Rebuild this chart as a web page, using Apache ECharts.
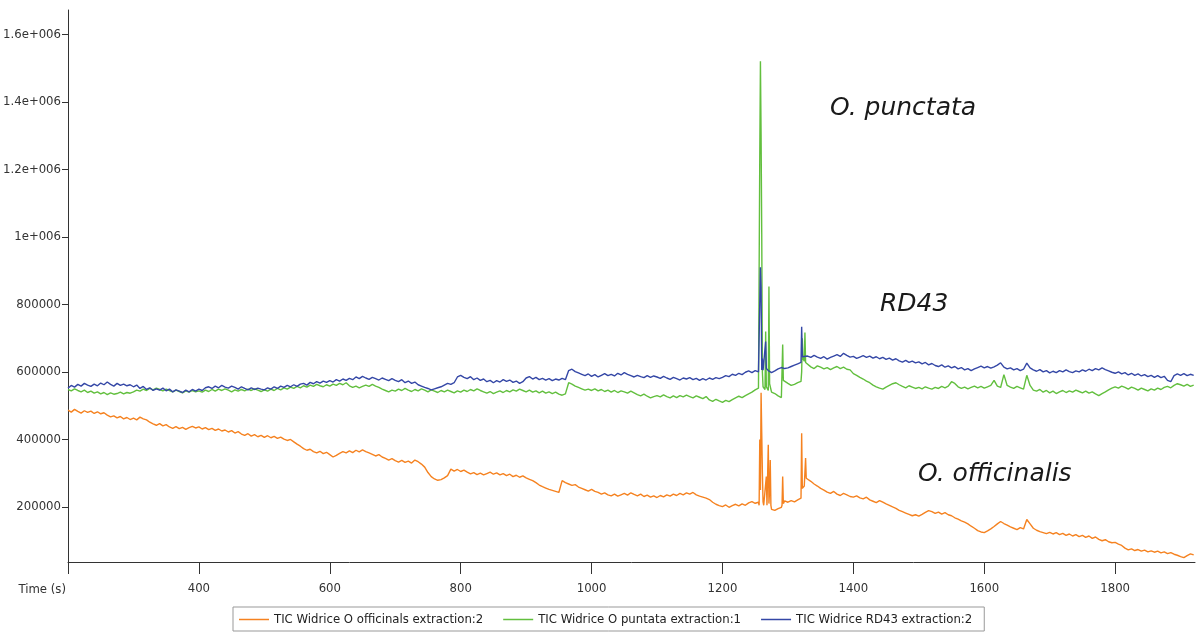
<!DOCTYPE html>
<html>
<head>
<meta charset="utf-8">
<script src="https://cdn.jsdelivr.net/npm/echarts@6/dist/echarts.min.js"></script>
<style>
html, body { margin: 0; padding: 0; background: #fff; }
#chart { width: 1198px; height: 637px; }
</style>
</head>
<body>
<div id="chart"></div>
<script>
// TIC traces, intensity in thousands, read every 5 s from 200 s to 1920 s
var tStart = 200
var tStep = 5

var officinalis = [
    487,481,489,483,478,485,480,484,477,482,476,479,472,467,470,464,468,461,465,459,
    463,458,466,461,458,451,446,442,447,440,444,437,433,438,432,436,430,435,439,434,
    437,431,435,429,433,427,431,425,428,422,426,419,423,416,412,417,410,414,408,412,
    406,411,405,409,403,407,401,397,400,393,386,380,373,368,371,364,360,365,358,362,
    355,348,353,359,364,360,366,361,368,363,369,364,360,356,351,355,348,344,339,343,
    337,333,338,332,336,330,339,334,327,318,302,290,283,279,281,286,293,312,306,311,
    305,309,303,298,302,296,300,295,299,303,297,301,295,299,293,297,290,294,288,292,
    286,282,278,272,265,260,256,252,249,246,243,278,272,268,264,266,259,255,251,247,
    252,246,243,238,242,236,233,238,232,236,240,235,242,237,233,238,231,235,229,233,
    228,234,230,236,232,238,234,240,236,242,238,243,236,232,229,226,222,214,208,204,
    201,206,199,204,208,203,209,205,212,216,211,214,420,200,384,193,190,195,199,218,
    214,219,215,221,226,262,283,276,268,262,255,250,244,240,246,238,234,240,236,231,
    229,233,227,224,229,221,217,213,219,214,209,205,200,196,190,186,182,178,174,177,
    173,178,184,189,186,181,185,179,183,177,174,168,164,159,155,150,143,137,130,126,
    124,129,135,142,150,157,151,146,141,137,133,139,135,163,150,137,131,127,124,121,
    125,120,124,118,122,116,120,114,118,112,116,110,114,107,111,104,100,103,97,94,
    95,90,86,78,73,76,71,74,69,72,67,70,66,69,64,67,62,65,60,57,
    53,50,56,61,58
]
var punctata = [
    548,544,550,545,541,546,539,543,537,541,535,539,533,538,534,536,540,535,539,537,
    541,546,543,549,545,551,547,552,548,544,549,545,541,546,542,538,544,540,545,541,
    544,540,546,542,548,543,549,545,550,546,541,547,543,548,544,549,545,550,546,542,
    547,543,549,545,551,547,553,549,555,551,557,553,559,555,561,557,563,559,556,562,
    558,564,560,566,562,568,559,554,558,553,557,561,557,563,558,554,549,545,541,546,
    543,549,545,551,546,542,548,544,550,546,541,547,543,539,545,541,546,542,538,544,
    540,546,542,548,544,550,545,541,537,542,536,540,544,539,545,541,547,543,549,545,
    541,546,540,544,538,543,537,541,536,540,534,531,535,568,564,558,554,550,546,549,
    545,550,544,548,542,546,540,545,539,544,541,537,543,538,533,529,534,528,523,527,
    530,526,532,527,523,529,524,530,526,531,527,523,529,525,521,527,517,513,519,514,
    510,516,512,518,523,528,524,530,535,540,547,552,1010,548,545,540,536,529,524,572,
    566,560,563,568,572,632,626,615,610,618,614,609,613,607,612,616,610,614,608,606,
    595,590,584,579,573,568,561,556,552,549,555,560,565,568,562,557,553,559,555,551,
    554,550,556,552,549,554,551,557,553,558,571,566,556,551,555,550,554,558,553,557,
    552,556,560,575,558,554,592,560,555,551,557,553,549,590,560,546,543,548,540,545,
    538,543,536,541,545,539,544,540,546,542,538,543,537,541,535,530,536,541,547,552,
    556,552,558,554,549,555,551,546,552,548,544,550,546,552,548,554,557,553,560,565,
    562,558,563,557,561
]
var rd43 = [
    552,560,555,563,558,566,561,557,564,559,567,562,570,563,558,566,560,564,559,562,
    556,561,551,557,548,553,545,550,546,552,544,549,541,547,543,539,546,541,548,543,
    549,545,553,556,551,558,553,560,555,552,558,554,549,556,551,547,553,548,552,549,
    547,553,549,556,551,558,554,560,556,562,557,564,566,561,569,565,571,567,573,569,
    574,570,577,573,579,575,581,577,585,580,587,582,578,584,580,576,582,578,574,580,
    575,571,577,568,573,566,570,562,558,554,551,547,550,553,556,561,566,563,568,585,
    590,584,580,586,577,582,575,579,571,575,568,574,570,577,572,576,569,573,566,571,
    582,586,579,584,577,581,576,580,574,579,576,581,577,604,608,601,597,593,589,594,
    587,592,585,590,595,589,593,588,596,591,598,593,589,585,590,586,583,589,584,588,
    585,581,587,582,578,584,580,576,582,579,583,577,581,575,580,576,582,578,583,580,
    584,589,586,593,590,596,592,599,603,598,604,600,606,601,604,598,603,609,613,610,
    612,616,620,624,628,642,647,643,649,644,640,645,638,643,647,651,646,655,649,644,
    646,640,644,648,643,647,641,645,639,643,637,641,635,639,633,629,634,628,632,627,
    630,624,628,621,625,619,616,621,614,618,612,616,609,613,606,610,604,609,613,617,
    612,616,611,615,620,627,614,609,612,606,610,604,608,626,612,606,602,607,600,604,
    597,602,598,604,600,606,601,598,603,600,606,602,608,604,610,606,612,607,603,599,
    596,600,594,598,591,596,590,594,588,592,586,590,584,589,583,587,575,571,589,594,
    590,595,589,593,590
]

// narrow peaks between the 5 s samples: [time (s), intensity (k)]
var officinalisPeaks = [
    [1256,205],[1257,400],[1258,250],[1259,538],[1261,300],[1262,215],[1263,205],
    [1266,200],[1267,290],[1268,205],[1269,200],[1271,210],[1272,250],[1273,339],[1274,205],
    [1291,205],[1292,290],[1293,210],[1321,418],[1322,255],[1326,265],[1327,345],[1328,285]
]
var punctataPeaks = [
    [1256,552],[1257,1240],[1258,1520],[1259,1300],[1261,600],[1262,556],
    [1266,720],[1267,556],[1269,560],[1271,853],[1272,565],
    [1291,528],[1292,681],[1293,575],[1321,600],[1322,700],[1323,640],[1326,717],[1327,628]
]
var rd43Peaks = [
    [1257,603],[1258,910],[1259,850],[1261,640],[1262,605],[1266,690],[1267,610],[1321,734],[1322,645]
]

var seriesNames = ['TIC Widrice O officinals extraction:2', 'TIC Widrice O puntata extraction:1', 'TIC Widrice RD43 extraction:2']
var seriesColors = ['#f58220', '#62bf3e', '#3447a6']

var yTicks = [200000, 400000, 600000, 800000, 1000000, 1200000, 1400000, 1600000]
var yTickLabels = ['200000', '400000', '600000', '800000', '1e+006', '1.2e+006', '1.4e+006', '1.6e+006']
var xTicks = [200, 400, 600, 800, 1000, 1200, 1400, 1600, 1800]
var xTickLabels = ['', '400', '600', '800', '1000', '1200', '1400', '1600', '1800']

var labels = [
    { text: 'O. punctata', x: 830, y: 108 },
    { text: 'RD43', x: 880, y: 304 },
    { text: 'O. officinalis', x: 918, y: 474 }
]

function build(vals, peaks) {
    var pts = []
    for (var i = 0; i < vals.length; i++) {
        pts.push([tStart + i * tStep, vals[i] * 1000])
    }
    for (var j = 0; j < peaks.length; j++) {
        pts.push([peaks[j][0], peaks[j][1] * 1000])
    }
    pts.sort(function(a, b) { return a[0] - b[0] })
    return pts
}

var allVals = [officinalis, punctata, rd43]
var allPeaks = [officinalisPeaks, punctataPeaks, rd43Peaks]

var narrow = '"DejaVu Sans Condensed", "Liberation Sans Narrow", sans-serif'

var series = []
var legendData = []
for (var k = 0; k < 3; k++) {
    series.push({
        name: seriesNames[k],
        type: 'line',
        color: seriesColors[k],
        data: build(allVals[k], allPeaks[k]),
        showSymbol: false,
        symbol: 'none',
        lineStyle: { width: 1.4, color: seriesColors[k] },
        itemStyle: { color: seriesColors[k] }
    })
    legendData.push({ name: seriesNames[k], itemStyle: { color: seriesColors[k], borderWidth: 0 } })
}

var graphics = labels.map(function(l) {
    return {
        type: 'text',
        x: l.x,
        y: l.y,
        style: {
            text: l.text,
            font: 'italic 25px "DejaVu Sans"',
            fill: '#1a1a1a',
            verticalAlign: 'middle'
        }
    }
})
graphics.push({
    type: 'text',
    x: 66,
    y: 590,
    style: {
        text: 'Time (s)',
        font: '13px ' + narrow,
        fill: '#333',
        align: 'right',
        verticalAlign: 'middle'
    }
})

var myChart = echarts.init(document.getElementById('chart'))
var option = {
    animation: false,
    backgroundColor: '#fff',
    grid: { left: 68, right: 3, top: 10, bottom: 75, containLabel: false, outerBoundsMode: 'none' },
    legend: {
        data: legendData,
        left: 233,
        top: 607,
        padding: [6, 12, 5, 6],
        itemGap: 20,
        itemWidth: 30,
        itemHeight: 1.5,
        icon: 'rect',
        borderColor: '#999',
        borderWidth: 1,
        borderRadius: 0,
        textStyle: { fontFamily: narrow, fontSize: 13, color: '#222' }
    },
    xAxis: {
        type: 'value',
        min: 200,
        max: 1922,
        splitLine: { show: false },
        axisLine: { lineStyle: { color: '#333', width: 1 } },
        axisTick: { show: true, length: 12, customValues: xTicks, lineStyle: { color: '#333' } },
        axisLabel: {
            customValues: xTicks,
            margin: 20,
            fontFamily: narrow,
            fontSize: 13,
            color: '#333',
            formatter: function(v) { return xTickLabels[xTicks.indexOf(v)] }
        }
    },
    yAxis: {
        type: 'value',
        min: 37000,
        max: 1672000,
        splitLine: { show: false },
        axisLine: { show: true, lineStyle: { color: '#333', width: 1 } },
        axisTick: { show: true, length: 6, customValues: yTicks, lineStyle: { color: '#333' } },
        axisLabel: {
            customValues: yTicks,
            margin: 7,
            fontFamily: narrow,
            fontSize: 13,
            color: '#333',
            formatter: function(v) { return yTickLabels[yTicks.indexOf(v)] }
        }
    },
    graphic: graphics,
    series: series
}
myChart.setOption(option)
</script>
</body>
</html>
